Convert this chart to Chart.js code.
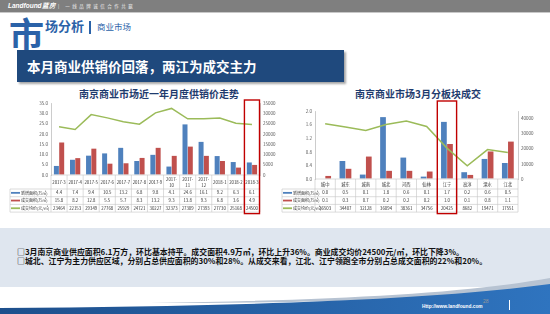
<!DOCTYPE html>
<html lang="zh-CN">
<head>
<meta charset="UTF-8">
<title>南京商业市场</title>
<script src="https://cdn.jsdelivr.net/npm/chart.js"></script>
<style>
  body { margin: 0; }
  #slide { position: relative; width: 550px; height: 314px; overflow: hidden; background: #fff;
           font-family: "Noto Sans CJK SC", "Noto Sans", sans-serif; }
  .abs { position: absolute; white-space: nowrap; }
  #topbar { left: 0; top: 0; width: 550px; height: 12px; background: #7f7f7f; border-bottom: 1px solid #c8c8c8; }
  #brand { left: 8px; top: 0; font: italic bold 6.5px/12px "Liberation Sans", sans-serif; color: #fff; }
  #slogan { left: 58px; top: 0; font: 4.5px/12px "Noto Sans CJK SC"; color: #eee; letter-spacing: 2.5px; }
  #big { left: 9px; top: 15px; font-size: 35px; line-height: 1; font-weight: bold; color: #2b62a8; }
  #sub { left: 45px; top: 19px; font-size: 13px; line-height: 1; font-weight: bold; color: #2b62a8; }
  #bar { left: 89px; top: 21px; width: 2px; height: 13px; background: #2b62a8; }
  #sub2 { left: 97px; top: 21.5px; font-size: 8.5px; line-height: 1; color: #2b62a8; }
  #banner { left: 17px; top: 50px; width: 327px; height: 32px; background: #1f497d;
            box-shadow: 2px 2px 2px rgba(0,0,0,0.35); }
  #banner span { position: absolute; left: 10px; top: 0; font-size: 13.5px; line-height: 32px; font-weight: bold; color: #fff; }
  .ctitle { top: 88px; font-size: 10px; line-height: 12px; font-weight: bold; color: #1f3b6e; transform: translateX(-50%); }
  canvas { position: absolute; }
  #note { left: 0; top: 228px; width: 550px; height: 59px; background: #dfe6ef; }
  .line { left: 17px; font-size: 7.9px; line-height: 9px; font-weight: bold; color: #111; }
  #url { left: 422px; top: 304px; font: bold 4.8px/6px "Liberation Sans", sans-serif; color: #fff; }
  #page { left: 483px; top: 298px; font: 5px/6px "Liberation Sans", sans-serif; color: #999; }
</style>
</head>
<body>
<div id="slide">
  <div id="topbar" class="abs"></div>
  <div id="brand" class="abs">Landfound蓝房</div>
  <div id="slogan" class="abs">| 一线品牌诚信合作共赢</div>
  <div id="big" class="abs">市</div>
  <div id="sub" class="abs">场分析</div>
  <div id="bar" class="abs"></div>
  <div id="sub2" class="abs">商业市场</div>
  <div id="banner" class="abs"><span>本月商业供销价回落，两江为成交主力</span></div>

  <div class="abs ctitle" style="left:159px">南京商业市场近一年月度供销价走势</div>
  <div class="abs ctitle" style="left:418px">南京商业市场3月分板块成交</div>

  <canvas id="monthChart" width="276" height="120" style="left:8px; top:96px"></canvas>
  <canvas id="areaChart" width="268" height="120" style="left:280px; top:96px"></canvas>

  <div id="note" class="abs"></div>
  <div class="abs line" style="top:247px">□3月南京商业供应面积6.1万方，环比基本持平。成交面积4.9万㎡，环比上升36%。商业成交均价24500元/㎡，环比下降3%。</div>
  <div class="abs line" style="top:256px">□城北、江宁为主力供应区域，分别占总供应面积的30%和28%。从成交来看，江北、江宁领跑全市分别占总成交面积的22%和20%。</div>

  <svg class="abs" style="left:0; top:270px" width="550" height="44">
    <defs>
      <linearGradient id="fb" x1="0" x2="1" y1="0" y2="0">
        <stop offset="0" stop-color="#1d4f8c"/>
        <stop offset="1" stop-color="#2f74bf"/>
      </linearGradient>
    </defs>
    <path d="M150 33 C 330 30, 460 24, 550 8 L550 16 C 450 30, 320 33, 150 33 Z" fill="#b7c3d2"/>
    <path d="M0 38 C 250 36, 430 30, 550 14 L550 44 L0 44 Z" fill="url(#fb)"/>
    <rect x="509" y="30" width="1" height="10" fill="#fff"/>
  </svg>
  <div id="url" class="abs">Http://www.landfound.com</div>
  <div id="page" class="abs">28</div>
</div>

<script>
// 近一年月度数据
var months = ["2017-3", "2017-4", "2017-5", "2017-6", "2017-7", "2017-8", "2017-9",
              "2017-10", "2017-11", "2017-12", "2018-1", "2018-2", "2018-3"];
var monthSupply = [4.4, 7.4, 9.4, 10.5, 13.2, 6.8, 9.8, 4.1, 24.6, 16.1, 9.2, 6.3, 6.1];
var monthDeal = [15.8, 8.2, 12.8, 5.5, 5.7, 8.3, 13.2, 9.3, 13.8, 9.3, 6.8, 3.6, 4.9];
var monthPrice = [23464, 22153, 29349, 27768, 25929, 24721, 30227, 32373, 27309, 27393, 27730, 25168, 24500];

// 3月分板块数据
var districts = ["城中", "城东", "城南", "城北", "河西", "仙林", "江宁", "高淳", "溧水", "江北"];
var areaSupply = [0.0, 0.53, 0.13, 1.82, 0.63, 0.07, 1.68, 0.2, 0.59, 0.47];
var areaDeal = [0.09, 0.3, 0.66, 0.24, 0.24, 0.22, 1.03, 0.12, 0.81, 1.1];
var areaPrice = [36503, 34407, 32128, 36094, 38361, 34756, 20425, 8682, 19471, 17551];

var seriesNames = ["新增面积(万㎡)", "成交面积(万㎡)", "成交均价(元/㎡)"];
var colors = ["#4f81bd", "#c0504d", "#9bbb59"];
var FONT = "\"Noto Sans CJK SC\", sans-serif";

// 图下方的数据表 + 红框
var tablePlugin = {
  id: "dataTable",
  afterDraw: function(chart, args, opts) {
    var ctx = chart.ctx;
    var area = chart.chartArea;
    var x = chart.scales.x;
    var n = chart.data.labels.length;
    var step = (area.right - area.left) / n;
    var top = area.bottom;
    var rows = [top, top + opts.headH];
    for (var r = 1; r <= 3; r++) rows.push(top + opts.headH + r * opts.rowH);
    var bottom = rows[4];

    ctx.save();
    ctx.strokeStyle = "#c4c4c4";
    ctx.lineWidth = 0.6;
    ctx.beginPath();
    ctx.moveTo(area.left, rows[0]); ctx.lineTo(area.right, rows[0]);
    for (var k = 1; k < rows.length; k++) {
      ctx.moveTo(opts.legendLeft, rows[k]); ctx.lineTo(area.right, rows[k]);
    }
    for (var i = 0; i <= n; i++) {
      var bx = area.left + i * step;
      ctx.moveTo(bx, rows[0]); ctx.lineTo(bx, bottom);
    }
    ctx.moveTo(opts.legendLeft, rows[1]); ctx.lineTo(opts.legendLeft, bottom);
    ctx.stroke();

    ctx.fillStyle = "#333";
    ctx.textAlign = "center";
    ctx.textBaseline = "middle";
    ctx.font = "4.3px " + FONT;
    for (var i = 0; i < n; i++) {
      var cx = x.getPixelForValue(i);
      var lab = chart.data.labels[i];
      var headMid = (rows[0] + rows[1]) / 2;
      if (Array.isArray(lab)) {
        ctx.fillText(lab[0], cx, headMid - 3);
        ctx.fillText(lab[1], cx, headMid + 3);
      } else {
        ctx.fillText(lab, cx, headMid);
      }
      var vals = opts.values;
      for (var r = 0; r < 3; r++) {
        var v = vals[r][i];
        var txt = r < 2 ? v.toFixed(1) : String(v);
        ctx.fillText(txt, cx, (rows[r + 1] + rows[r + 2]) / 2);
      }
    }
    // legend column
    ctx.textAlign = "left";
    ctx.font = "4px " + FONT;
    for (var r = 0; r < 3; r++) {
      var cy = (rows[r + 1] + rows[r + 2]) / 2;
      ctx.strokeStyle = colors[r];
      ctx.lineWidth = 1.8;
      ctx.beginPath();
      ctx.moveTo(opts.legendLeft + 1, cy); ctx.lineTo(opts.legendLeft + 10, cy);
      ctx.stroke();
      ctx.fillStyle = "#333";
      ctx.fillText(seriesNames[r], opts.legendLeft + 11, cy + 0.3);
    }
    // highlight box
    var hx = x.getPixelForValue(opts.highlight);
    ctx.strokeStyle = "#c00000";
    ctx.lineWidth = 1.4;
    ctx.strokeRect(hx - step / 2 + 0.5, opts.hiTop, step - 1, bottom + 1.5 - opts.hiTop);
    ctx.restore();
  }
};

function makeChart(id, labels, supply, deal, price, cfg) {
  return new Chart(document.getElementById(id), {
    data: {
      labels: labels,
      datasets: [
        { type: "line", label: seriesNames[2], data: price, yAxisID: "y1", borderColor: colors[2],
          borderWidth: 1.5, pointRadius: 0, tension: 0, order: 0 },
        { type: "bar", label: seriesNames[0], data: supply, backgroundColor: colors[0], yAxisID: "y",
          categoryPercentage: cfg.catPct, barPercentage: 0.94, order: 1 },
        { type: "bar", label: seriesNames[1], data: deal, backgroundColor: colors[1], yAxisID: "y",
          categoryPercentage: cfg.catPct, barPercentage: 0.94, order: 1 }
      ]
    },
    options: {
      responsive: false,
      animation: false,
      layout: { padding: { top: cfg.padTop, left: 0, right: 0, bottom: 0 } },
      plugins: {
        legend: { display: false },
        tooltip: { enabled: false },
        dataTable: { headH: cfg.headH, rowH: 7.7, legendLeft: 2, highlight: labels.length - cfg.hiFromEnd,
                     hiTop: cfg.hiTop, values: [supply, deal, price] }
      },
      scales: {
        x: {
          ticks: { display: false },
          grid: { display: false },
          border: { display: false },
          afterFit: function(s) { s.height = cfg.xH; }
        },
        y: {
          position: "left", min: 0, max: cfg.yMax,
          ticks: { stepSize: cfg.yStep, font: { size: 4.5, family: FONT }, color: "#595959", padding: 3,
                   callback: function(v) { return v.toFixed(1); } },
          grid: { color: "rgba(0,0,0,0)", drawTicks: false },
          border: { display: true, color: "#bfbfbf", width: 0.8 },
          afterFit: function(s) { s.width = cfg.yW; }
        },
        y1: {
          position: "right", min: 0, max: cfg.y1Max,
          ticks: { stepSize: 5000, font: { size: 4.5, family: FONT }, color: "#595959", padding: 3,
                   callback: function(v) { return String(v); } },
          grid: { display: false, drawTicks: false },
          border: { display: true, color: "#bfbfbf", width: 0.8 },
          afterFit: function(s) { s.width = cfg.y1W; }
        }
      }
    },
    plugins: [tablePlugin]
  });
}

var monthLabels = months.map(function(m) {
  var p = m.split("-");
  return p[1].length > 1 ? [p[0] + "-", p[1]] : m;
});

makeChart("monthChart", monthLabels, monthSupply, monthDeal, monthPrice,
  { catPct: 0.66, padTop: 7, headH: 14, xH: 41, yMax: 35, yStep: 5, y1Max: 35000,
    yW: 43, y1W: 24, hiFromEnd: 1, hiTop: 4 });

makeChart("areaChart", districts, areaSupply, areaDeal, areaPrice,
  { catPct: 0.6, padTop: 15, headH: 10, xH: 37, yMax: 2, yStep: 0.2, y1Max: 45000,
    yW: 35, y1W: 30, hiFromEnd: 4, hiTop: 5 });
</script>
</body>
</html>
